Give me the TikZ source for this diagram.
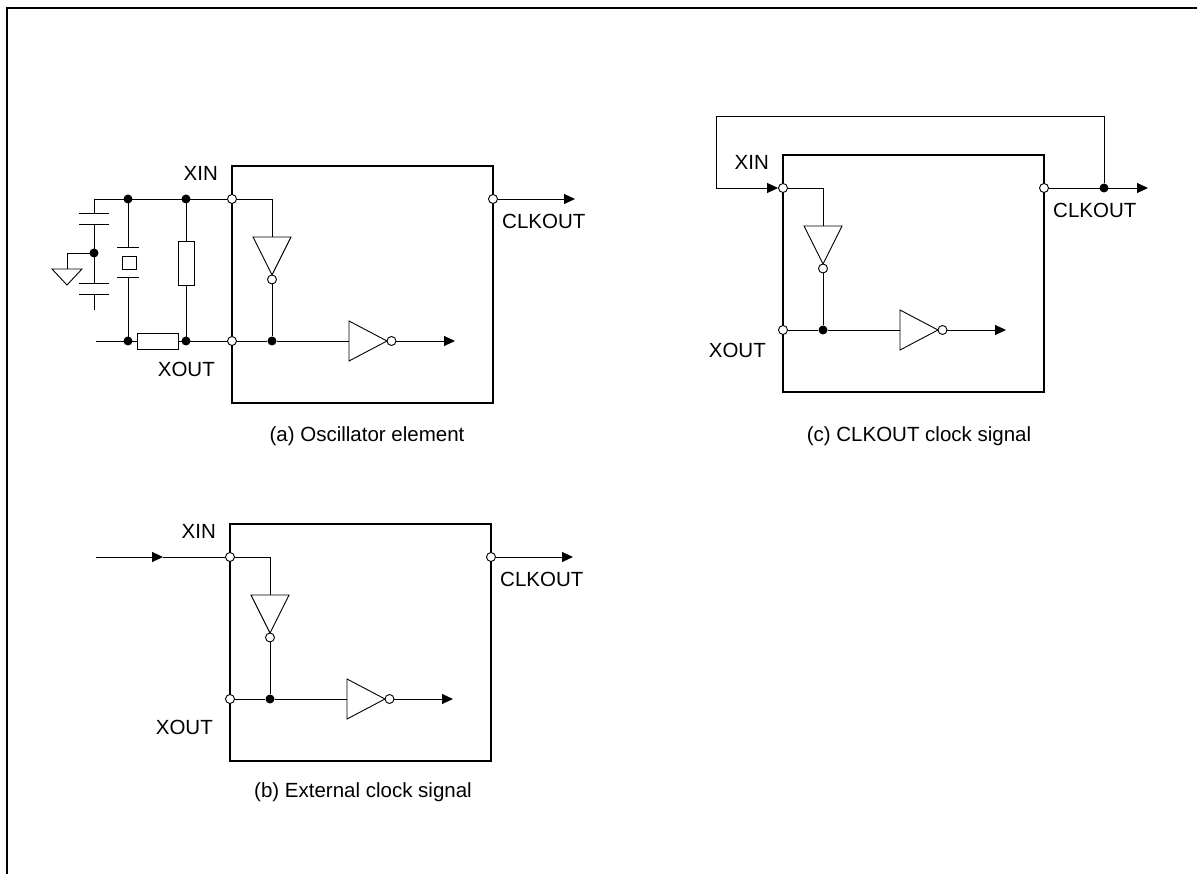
\documentclass[tikz,border=0pt]{standalone}
\usepackage{fontspec}
\setmainfont{Liberation Sans}
\usetikzlibrary{arrows.meta,positioning}

\tikzset{
  wire/.style={line width=0.9pt},
  chipbox/.style={line width=1.6pt},
  sig/.style={wire,-{Triangle[length=11pt,width=10pt]}},
  pin/.style={circle,draw,fill=white,line width=0.9pt,inner sep=0pt,minimum size=9pt},
  dot/.style={circle,fill=black,inner sep=0pt,minimum size=9pt},
  part/.style={draw,line width=0.9pt,fill=white,inner sep=0pt},
  lbl/.style={font=\fontsize{20.5}{24}\selectfont,inner sep=0pt},
}

\begin{document}
\begin{tikzpicture}[x=1pt,y=-1pt]
    \useasboundingbox (0,0) rectangle (1197,874);

    % Outer frame (top and left edges)
    \draw[line width=2pt] (7,880) -- (7,8) -- (1200,8);

    % Chip core, same in all three panels
    \foreach \nm/\bx/\by/\ex/\oy in {a/232/166/343/203,b/230/524/343/203,c/783/155/365/195} {
        \begin{scope}[shift={(\bx,\by)}]
            \draw[chipbox] (0,0) rectangle (261,237);
            \node[pin] (xin\nm) at (0,33) {};
            \node[pin] (xout\nm) at (0,175) {};
            \node[pin] (clk\nm) at (261,33) {};

            % Feedback inverter (vertical)
            \draw[wire] (xin\nm) -- (40,33) -- (40,71);
            \draw[wire] (21,71) -- (59,71) -- (40,109) -- cycle;
            \node[pin] (inva\nm) at (40,113.5) {};
            \node[dot] (tap\nm) at (40,175) {};
            \draw[wire] (inva\nm) -- (tap\nm);
            \draw[wire] (xout\nm) -- (tap\nm);

            % Output inverter (horizontal)
            \draw[wire] (tap\nm) -- (117,175);
            \draw[wire] (117,155) -- (117,195) -- (155,175) -- cycle;
            \node[pin] (invb\nm) at (159.5,175) {};
            \coordinate (intout\nm) at (223,175);
            \draw[sig] (invb\nm) -- (intout\nm);

            % Clock output
            \coordinate (clkend\nm) at (\ex,33);
            \draw[sig] (clk\nm) -- (clkend\nm);

            % Pin names
            \node[lbl,anchor=east] (lxin\nm) at (-14,7) {XIN};
            \node[lbl,anchor=east] (lxout\nm) at (-17,\oy) {XOUT};
            \node[lbl,anchor=west] (lclk\nm) at (270,55) {CLKOUT};
        \end{scope}
    }

    % (a) Oscillator element
    \node[part,minimum width=16pt,minimum height=44pt] (resv) at (186,263) {};
    \node[part,minimum width=41pt,minimum height=16pt] (resh) at (157.5,341) {};
    \node[part,minimum width=14pt,minimum height=13pt] (xtal) at (129,262.5) {};
    \draw[wire] (94,213) -- (94,199) -- (xina);
    \draw[wire] (79,213) -- (109,213) (79,224) -- (109,224);
    \draw[wire] (94,224) -- (94,283);
    \draw[wire] (79,283) -- (109,283) (79,294) -- (109,294);
    \draw[wire] (94,294) -- (94,310);
    % ground
    \draw[wire] (94,253) -- (67,253) -- (67,269);
    \draw[wire] (52,269) -- (82,269) -- (67,285) -- cycle;
    % crystal
    \draw[wire] (128,199) -- (128,247) (117,247) -- (139,247);
    \draw[wire] (117,277) -- (139,277) (128,277) -- (128,341);
    % feedback resistor and damping resistor
    \draw[wire] (186,199) -- (resv) -- (186,341);
    \draw[wire] (96,341) -- (resh) -- (xouta);
    \foreach \p in {(128,199),(186,199),(128,341),(186,341),(94,253)}
        \fill \p circle (4.5pt);
    \node[lbl,anchor=base] (capa) at (367,442) {(a) Oscillator element};

    % (b) External clock signal
    \coordinate (srcb) at (96,557);
    \coordinate (midb) at (163,557);
    \draw[sig] (srcb) -- (midb);
    \draw[wire] (midb) -- (xinb);
    \node[lbl,anchor=base] (capb) at (363,797) {(b) External clock signal};

    % (c) CLKOUT clock signal
    \node[dot] (fbdot) at (1104,188) {};
    \draw[sig] (fbdot) -- (1104,116) -- (716,116) -- (716,188) -- (xinc);
    \node[lbl,anchor=base] (capc) at (919,442) {(c) CLKOUT clock signal};
\end{tikzpicture}
\end{document}
